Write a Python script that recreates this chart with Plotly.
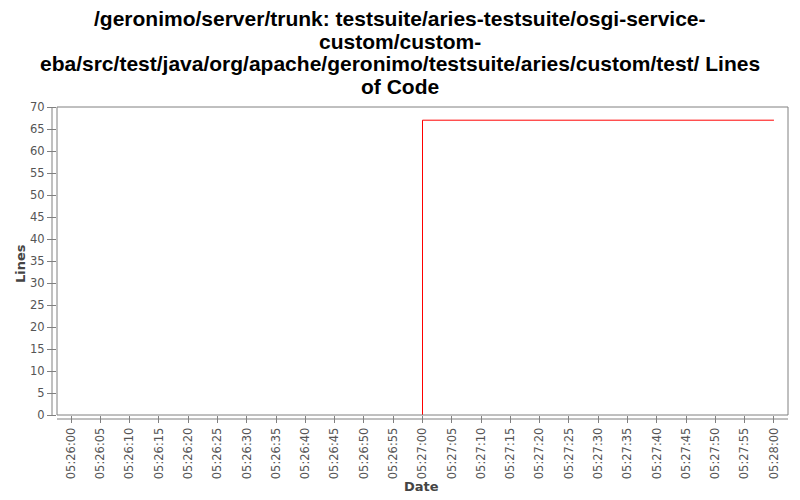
import plotly.graph_objects as go

dates = ["2000-01-01 05:27:00", "2000-01-01 05:27:00", "2000-01-01 05:28:00"]
lines = [0, 67, 67]

tick_vals = ["2000-01-01 05:26:%02d" % s for s in range(0, 60, 5)] + \
            ["2000-01-01 05:27:%02d" % s for s in range(0, 60, 5)] + ["2000-01-01 05:28:00"]
tick_text = [t.split(" ")[1] for t in tick_vals]

title_lines = ["/geronimo/server/trunk: testsuite/aries-testsuite/osgi-service-",
               "custom/custom-",
               "eba/src/test/java/org/apache/geronimo/testsuite/aries/custom/test/ Lines",
               "of Code"]
title_y = [18, 41, 63.5, 86]

fig = go.Figure()
fig.add_trace(go.Scatter(x=dates, y=lines, mode="lines",
                         line=dict(color="#ff0000", width=1), showlegend=False))

grey = "#808080"
pw, ph = 731, 308
tickfont = dict(family="DejaVu Sans, sans-serif", size=11.5, color="#555555")
labfont = dict(family="DejaVu Sans, sans-serif", size=13, color="#444444", weight="bold")
fig.update_layout(
    width=800, height=500,
    margin=dict(l=57, r=12, t=107, b=85),
    paper_bgcolor="white", plot_bgcolor="white",
    xaxis=dict(range=["2000-01-01 05:25:57.6", "2000-01-01 05:28:02.4"],
               tickmode="array", tickvals=tick_vals, ticktext=tick_text,
               tickangle=-90, ticks="outside", ticklen=7, tickcolor=grey,
               tickfont=tickfont, automargin=False,
               showgrid=False, zeroline=False, showline=False),
    yaxis=dict(range=[0, 70], tickmode="linear", tick0=0, dtick=5,
               ticks="outside", ticklen=9, tickcolor=grey,
               tickfont=tickfont, automargin=False,
               showgrid=False, zeroline=False, showline=False),
)

# axis titles
fig.add_annotation(text="Date", xref="paper", yref="paper", x=(421 - 57) / pw,
                   y=-(486 - 415) / ph, xanchor="center", yanchor="middle",
                   showarrow=False, font=labfont)
fig.add_annotation(text="Lines", xref="paper", yref="paper", x=-(57 - 20) / pw,
                   y=(415 - 264) / ph, xanchor="center", yanchor="middle",
                   textangle=-90, showarrow=False, font=labfont)

for txt, yy in zip(title_lines, title_y):
    fig.add_annotation(text=txt, xref="paper", yref="paper", x=(400 - 57) / pw,
                       y=1 + (107 - yy) / ph, xanchor="center", yanchor="middle",
                       showarrow=False,
                       font=dict(family="Liberation Sans, Arial, sans-serif", size=21,
                                 color="black", weight="bold"))

# plot frame
fig.add_shape(type="rect", xref="paper", yref="paper", x0=0, y0=0, x1=1, y1=1,
              line=dict(color=grey, width=1), layer="above")
# offset axis lines
fig.add_shape(type="line", xref="paper", yref="paper", x0=-5/pw, x1=-5/pw, y0=0, y1=1,
              line=dict(color=grey, width=1))
fig.add_shape(type="line", xref="paper", yref="paper", x0=0, x1=1, y0=-4/ph, y1=-4/ph,
              line=dict(color=grey, width=1))

fig.write_html("out.html")
